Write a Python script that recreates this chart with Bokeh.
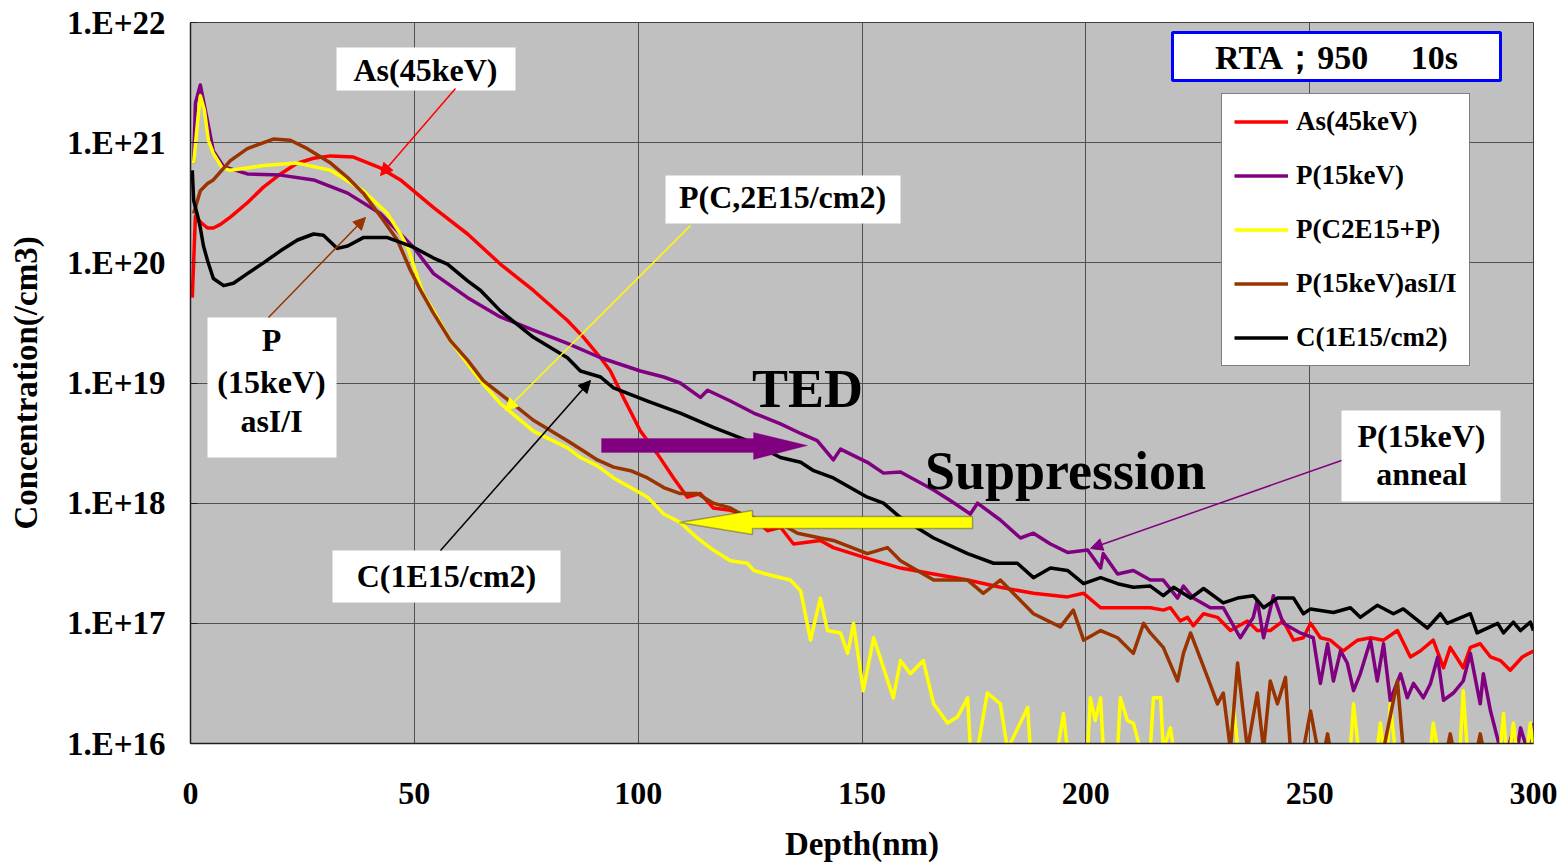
import numpy as np
from bokeh.plotting import figure
from bokeh.models import (Range1d, FixedTicker, Legend, LegendItem, Label,
                          BoxAnnotation, Arrow, NormalHead, PolyAnnotation)
from bokeh.embed import file_html
from bokeh.resources import INLINE

# ---------------- data ----------------
depth_ticks = [0, 50, 100, 150, 200, 250, 300]
conc_ticks = [1e16, 1e17, 1e18, 1e19, 1e20, 1e21, 1e22]
conc_tick_labels = ["1.E+16", "1.E+17", "1.E+18", "1.E+19", "1.E+20", "1.E+21", "1.E+22"]

series_names = ["As(45keV)", "P(15keV)", "P(C2E15+P)", "P(15keV)asI/I", "C(1E15/cm2)"]
series_colors = ["#FF0000", "#800080", "#FFFF00", "#993300", "#000000"]

# (depth nm, log10 concentration /cm3)
as_profile = [
    (0.4, 19.71), (1.1, 20.39), (2.2, 20.34), (3.8, 20.29), (5.1, 20.29), (6.7, 20.32), (8.9, 20.38),
    (12.7, 20.50), (16.3, 20.63), (20.1, 20.74), (23.9, 20.83), (27.5, 20.87), (31.3, 20.89), (36.4, 20.88),
    (42.4, 20.79), (46.9, 20.69), (54.3, 20.46), (61.9, 20.24), (69.2, 19.99), (76.6, 19.77), (84.2, 19.52),
    (87.8, 19.38), (91.6, 19.21), (93.8, 19.10), (96.7, 18.88), (100.5, 18.60), (104.3, 18.41), (107.9, 18.21),
    (111.0, 18.05), (113.9, 18.08), (116.8, 17.96), (120.6, 17.94), (125.8, 17.88), (128.9, 17.77), (131.8, 17.80),
    (134.7, 17.66), (140.7, 17.69), (143.6, 17.63), (151.2, 17.54), (158.6, 17.46), (166.0, 17.41), (173.6, 17.36),
    (180.9, 17.30), (188.3, 17.25), (195.9, 17.22), (199.5, 17.25), (203.3, 17.13), (210.6, 17.13), (214.4, 17.13),
    (217.3, 17.11), (218.9, 17.13), (221.1, 17.02), (222.7, 17.05), (224.0, 16.98), (226.3, 17.08), (229.4, 17.05),
    (232.3, 16.94), (236.1, 17.02), (238.3, 16.94), (241.2, 16.94), (244.1, 17.02), (246.4, 16.86), (248.6, 16.88),
    (250.2, 17.00), (252.4, 16.88), (254.6, 16.86), (257.5, 16.77), (260.7, 16.86), (263.6, 16.88), (266.5, 16.86),
    (269.6, 16.94), (272.5, 16.72), (274.7, 16.77), (277.6, 16.86), (279.9, 16.63), (281.4, 16.80), (284.3, 16.63),
    (285.9, 16.80), (288.1, 16.83), (290.4, 16.72), (292.6, 16.69), (294.8, 16.61), (297.5, 16.72), (300.0, 16.77),
]

p15_profile = [
    (0.7, 20.83), (1.1, 21.33), (2.2, 21.48), (3.8, 21.18), (5.1, 20.93), (7.4, 20.80), (12.7, 20.74),
    (20.1, 20.73), (27.5, 20.69), (35.1, 20.58), (42.4, 20.41), (46.9, 20.24), (49.8, 20.13), (54.3, 19.91),
    (61.9, 19.71), (69.2, 19.55), (76.6, 19.44), (84.2, 19.33), (91.6, 19.21), (100.5, 19.10), (105.7, 19.05),
    (109.4, 19.00), (113.9, 18.88), (115.5, 18.94), (120.6, 18.85), (125.8, 18.75), (131.8, 18.66), (136.3, 18.58),
    (140.0, 18.52), (143.6, 18.36), (145.2, 18.45), (151.2, 18.34), (154.8, 18.25), (158.6, 18.26), (166.0, 18.11),
    (169.8, 18.02), (174.2, 17.91), (175.8, 18.00), (180.9, 17.86), (185.4, 17.71), (188.3, 17.75), (192.1, 17.66),
    (195.9, 17.59), (200.4, 17.61), (203.3, 17.46), (203.9, 17.58), (207.1, 17.41), (210.6, 17.44), (214.4, 17.36),
    (217.3, 17.36), (220.5, 17.21), (221.8, 17.31), (224.0, 17.21), (227.8, 17.13), (230.7, 17.13), (234.5, 16.88),
    (237.4, 17.05), (238.3, 17.19), (239.7, 16.88), (241.9, 17.23), (244.1, 17.00), (247.9, 16.92), (250.8, 16.88),
    (252.4, 16.50), (254.0, 16.83), (255.3, 16.52), (256.9, 16.77), (258.4, 16.67), (259.8, 16.44), (261.3, 16.58),
    (263.6, 16.86), (265.1, 16.52), (266.5, 16.83), (268.0, 16.36), (270.3, 16.58), (271.8, 16.38), (273.2, 16.50),
    (275.4, 16.38), (277.0, 16.50), (278.6, 16.72), (279.9, 16.36), (282.1, 16.42), (284.3, 16.52), (285.9, 16.75),
    (288.1, 16.33), (288.8, 16.58), (290.4, 16.27), (292.6, 15.95), (294.2, 15.95), (295.5, 16.11), (296.4, 15.95),
    (297.1, 16.13), (298.6, 15.95), (300.0, 16.17),
]

pc_profile = [
    (0.7, 20.83), (1.6, 21.18), (2.2, 21.39), (3.1, 21.27), (4.0, 21.02), (5.1, 20.91), (7.1, 20.79),
    (8.9, 20.77), (12.7, 20.79), (16.3, 20.81), (23.9, 20.83), (31.3, 20.77), (38.6, 20.60), (44.0, 20.41),
    (46.9, 20.24), (48.5, 20.13), (50.7, 19.88), (52.0, 19.74), (54.3, 19.60), (58.1, 19.35), (61.9, 19.16),
    (65.4, 18.99), (69.2, 18.83), (76.6, 18.60), (84.2, 18.46), (87.1, 18.38), (90.9, 18.31), (94.5, 18.21),
    (98.3, 18.13), (102.1, 18.05), (105.7, 17.91), (109.4, 17.84), (113.2, 17.71), (116.8, 17.61), (120.6, 17.52),
    (124.4, 17.50), (125.8, 17.44), (129.6, 17.40), (134.0, 17.36), (136.3, 17.27), (138.5, 16.86), (140.7, 17.21),
    (142.3, 16.94), (145.2, 16.92), (146.8, 16.75), (148.1, 17.00), (150.3, 16.44), (152.6, 16.88), (154.8, 16.63),
    (157.0, 16.38), (158.6, 16.69), (160.8, 16.58), (163.7, 16.69), (166.0, 16.33), (169.1, 16.17), (171.3, 16.22),
    (173.6, 16.38), (174.2, 15.95), (175.8, 15.95), (178.0, 16.42), (180.9, 16.33), (182.5, 15.95), (187.0, 16.30),
    (187.6, 15.95), (193.7, 15.95), (195.0, 16.25), (195.9, 15.95), (200.4, 15.95), (201.0, 16.38), (202.1, 16.19),
    (203.3, 16.38), (203.9, 15.95), (207.1, 15.95), (207.7, 16.38), (209.3, 16.19), (210.6, 16.17), (212.2, 15.95),
    (214.4, 15.95), (215.1, 16.38), (216.7, 16.38), (217.3, 15.95), (218.9, 16.13), (219.6, 15.95), (232.3, 15.95),
    (233.0, 16.30), (234.0, 15.95), (259.1, 15.95), (259.8, 16.33), (260.9, 15.95), (265.1, 15.95), (265.8, 16.17),
    (266.5, 15.95), (267.4, 15.95), (268.0, 16.33), (269.1, 15.95), (277.0, 15.95), (277.6, 16.17), (278.6, 15.95),
    (283.6, 15.95), (284.3, 16.44), (285.2, 15.95), (292.6, 15.95), (293.3, 16.25), (293.9, 15.95), (294.8, 15.95),
    (295.5, 16.17), (296.2, 15.95), (298.6, 15.95), (299.3, 16.17), (300.0, 15.95),
]

pi_profile = [
    (0.7, 20.41), (2.2, 20.60), (3.8, 20.66), (5.1, 20.69), (8.9, 20.85), (12.7, 20.95), (18.5, 21.03),
    (22.3, 21.02), (26.1, 20.95), (31.3, 20.83), (35.1, 20.71), (38.6, 20.58), (42.4, 20.39), (46.2, 20.19),
    (49.1, 19.94), (51.4, 19.77), (54.3, 19.58), (58.1, 19.35), (61.9, 19.19), (65.4, 19.02), (69.2, 18.91),
    (76.6, 18.69), (84.2, 18.52), (87.1, 18.45), (90.9, 18.36), (94.5, 18.30), (98.3, 18.27), (102.1, 18.21),
    (105.7, 18.13), (109.4, 18.08), (113.2, 18.08), (116.8, 18.00), (120.6, 17.96), (124.4, 17.88), (131.8, 17.83),
    (135.6, 17.75), (140.7, 17.71), (143.6, 17.69), (151.2, 17.58), (155.7, 17.63), (158.6, 17.52), (166.0, 17.36),
    (173.6, 17.36), (177.1, 17.25), (180.9, 17.36), (188.3, 17.08), (194.3, 16.97), (197.2, 17.11), (199.5, 16.86),
    (203.3, 16.94), (207.1, 16.88), (210.6, 16.75), (212.9, 17.00), (214.4, 16.92), (217.3, 16.80), (220.5, 16.52),
    (221.8, 16.75), (223.4, 16.92), (227.2, 16.55), (229.4, 16.33), (230.7, 16.42), (232.3, 15.95), (233.9, 16.67),
    (236.1, 15.95), (238.3, 16.42), (239.7, 15.95), (241.2, 16.52), (242.8, 16.33), (244.6, 16.55), (245.7, 15.95),
    (248.6, 15.95), (250.2, 16.27), (251.8, 15.95), (253.3, 15.95), (254.0, 16.08), (254.6, 15.95), (266.5, 15.95),
    (269.6, 16.52), (270.9, 15.95), (280.7, 15.95), (281.4, 16.08), (282.1, 15.95), (287.4, 15.95), (288.1, 16.08),
    (288.8, 15.95), (300.0, 15.95),
]

c_profile = [
    (0.4, 20.77), (0.7, 20.52), (1.6, 20.39), (2.2, 20.29), (2.9, 20.14), (3.8, 20.02), (5.1, 19.87),
    (7.4, 19.81), (9.6, 19.83), (12.7, 19.91), (16.3, 20.00), (20.1, 20.10), (23.9, 20.19), (27.5, 20.24),
    (29.7, 20.23), (32.8, 20.12), (35.1, 20.14), (38.6, 20.21), (44.0, 20.21), (46.9, 20.17), (49.8, 20.13),
    (54.3, 20.04), (57.4, 19.99), (61.9, 19.85), (64.8, 19.77), (69.2, 19.60), (76.6, 19.38), (84.2, 19.21),
    (87.1, 19.10), (91.6, 19.05), (94.5, 18.96), (102.1, 18.85), (109.4, 18.75), (116.8, 18.63), (124.4, 18.52),
    (131.8, 18.38), (136.3, 18.34), (139.2, 18.27), (143.6, 18.21), (151.2, 18.05), (154.8, 18.00), (158.6, 17.88),
    (166.0, 17.71), (173.6, 17.58), (179.4, 17.50), (184.7, 17.50), (188.3, 17.38), (192.1, 17.46), (195.9, 17.44),
    (199.5, 17.33), (203.3, 17.38), (207.1, 17.33), (210.6, 17.30), (214.4, 17.31), (217.3, 17.23), (219.6, 17.30),
    (223.4, 17.21), (226.3, 17.29), (230.7, 17.17), (233.9, 17.21), (237.4, 17.23), (239.7, 17.13), (242.8, 17.21),
    (246.4, 17.21), (248.6, 17.08), (250.2, 17.12), (255.3, 17.09), (259.1, 17.13), (261.3, 17.05), (265.1, 17.15),
    (268.7, 17.08), (270.9, 17.12), (276.3, 16.96), (279.2, 17.08), (280.7, 17.00), (285.9, 17.08), (287.4, 16.92),
    (292.0, 17.00), (293.3, 16.92), (295.5, 17.01), (297.1, 16.94), (299.3, 17.01), (300.0, 16.94),
]

profiles = [as_profile, p15_profile, pc_profile, pi_profile, c_profile]

# ---------------- layout helpers (annotation placement only) ----------------
FONT = "Liberation Serif"
FL, FT, FW, FH = 190, 22, 1343, 721


def sx(px):
    return (px - FL) / FW * 300.0


def sy(py):
    return 10 ** (22.0 - (py - FT) / FH * 6.0)


p = figure(frame_width=FW, frame_height=FH, y_axis_type="log",
           x_range=Range1d(0, 300), y_range=Range1d(1e16, 1e22),
           output_backend="svg", toolbar_location=None,
           min_border_left=FL, min_border_top=FT, min_border_right=27, min_border_bottom=123)

p.background_fill_color = "#C0C0C0"
p.border_fill_color = "white"
p.outline_line_color = "#404040"
p.outline_line_width = 1

# grid
p.xgrid.ticker = FixedTicker(ticks=depth_ticks)
p.ygrid.ticker = FixedTicker(ticks=conc_ticks)
for g in (p.xgrid[0], p.ygrid[0]):
    g.grid_line_color = "#505050"
    g.grid_line_width = 1

# axes
p.xaxis.ticker = FixedTicker(ticks=depth_ticks)
p.yaxis.ticker = FixedTicker(ticks=conc_ticks)
p.yaxis.major_label_overrides = dict(zip(conc_ticks, conc_tick_labels))
for ax in (p.xaxis[0], p.yaxis[0]):
    ax.axis_line_color = "#202020"
    ax.axis_line_width = 1.5
    ax.minor_tick_line_color = None
    ax.major_label_text_font = FONT
    ax.major_label_text_font_style = "bold"
    ax.major_label_text_font_size = "32px"
    ax.major_label_text_color = "black"
    ax.axis_label_text_font = FONT
    ax.axis_label_text_font_style = "bold"
    ax.axis_label_text_font_size = "33px"
    ax.axis_label_text_color = "black"
p.yaxis.major_label_text_font_size = "33px"
p.xaxis.major_label_text_line_height = 1.0
p.xaxis.axis_label_text_line_height = 1.0
p.xaxis.major_tick_in = 0
p.xaxis.major_tick_out = 0
p.yaxis.major_tick_in = 7
p.yaxis.major_tick_out = 0
p.yaxis.major_tick_line_color = "#202020"
p.xaxis.major_label_standoff = 39
p.yaxis.major_label_standoff = 25
p.xaxis.axis_label = "Depth(nm)"
p.yaxis.axis_label = "Concentration(/cm3)"
p.xaxis.axis_label_standoff = 19
p.yaxis.axis_label_standoff = 20

# series
items = []
for name, color, prof in zip(series_names, series_colors, profiles):
    d = np.array([a for a, _ in prof])
    c = 10 ** np.array([b for _, b in prof])
    r = p.line(d, c, line_color=color, line_width=3.5, line_join="round")
    items.append(LegendItem(label=name, renderers=[r]))

legend = Legend(items=items, location=(1221 - FL, 743 - 366),
                label_text_font=FONT, label_text_font_style="bold", label_text_font_size="27px",
                label_text_color="black", glyph_width=54, glyph_height=31, label_height=31,
                spacing=23, padding=12, margin=0, label_standoff=8,
                border_line_color="black", border_line_width=1,
                background_fill_color="white", background_fill_alpha=1)
p.add_layout(legend)


def box(l, t, r, b, line_color=None, line_width=0):
    p.add_layout(BoxAnnotation(left=sx(l), right=sx(r), top=sy(t), bottom=sy(b),
                               fill_color="white", fill_alpha=1,
                               line_color=line_color, line_alpha=1, line_width=line_width))


def label(text, px, py, size=32):
    # py is the wanted baseline; shift compensates for the renderer's baseline offset
    p.add_layout(Label(x=sx(px), y=sy(py - 0.37 * size), text=text, text_font=FONT,
                       text_font_style="bold", text_font_size=f"{size}px", text_color="black",
                       text_align="center", text_baseline="alphabetic"))


# text boxes
box(336, 47, 515, 90)
label("As(45keV)", 425, 81)
box(665, 175, 900, 223)
label("P(C,2E15/cm2)", 782, 208)
box(207, 317, 336, 457)
label("P", 271, 351)
label("(15keV)", 271, 393)
label("asI/I", 271, 432)
box(332, 550, 560, 602)
label("C(1E15/cm2)", 446, 587)
box(1341, 410, 1500, 501)
label("P(15keV)", 1421, 447)
label("anneal", 1421, 485)
box(1172, 32, 1500, 80, line_color="#0000FF", line_width=3)
label("RTA；950　 10s", 1336, 70, size=34)

label("TED", 807, 408, size=54)
label("Suppression", 1065, 490, size=54)


# thin pointer arrows
def pointer(x0, y0, x1, y1, color):
    p.add_layout(Arrow(end=NormalHead(size=12, fill_color=color, line_color=color),
                       x_start=sx(x0), y_start=sy(y0), x_end=sx(x1), y_end=sy(y1),
                       line_color=color, line_width=1.5))


pointer(455, 88, 380, 175, "#FF0000")
pointer(690, 225, 505, 410, "#FFFF00")
pointer(268, 317, 365, 217, "#993300")
pointer(440, 550, 590, 380, "#000000")
pointer(1341, 460, 1090, 548, "#800080")

# big block arrows
ted_px = [601, 753, 753, 807, 753, 753, 601]
ted_py = [438, 438, 432, 445, 459, 452, 452]
p.add_layout(PolyAnnotation(xs=[sx(v) for v in ted_px], ys=[sy(v) for v in ted_py],
                            fill_color="#800080", fill_alpha=1, line_color="#800080", line_width=1))
sup_px = [972, 752, 752, 679, 752, 752, 972]
sup_py = [516, 516, 510, 522, 534, 528, 528]
p.add_layout(PolyAnnotation(xs=[sx(v) for v in sup_px], ys=[sy(v) for v in sup_py],
                            fill_color="#FFFF00", fill_alpha=1, line_color="black", line_width=1.5))

open("out.html", "w").write(file_html(p, INLINE))
